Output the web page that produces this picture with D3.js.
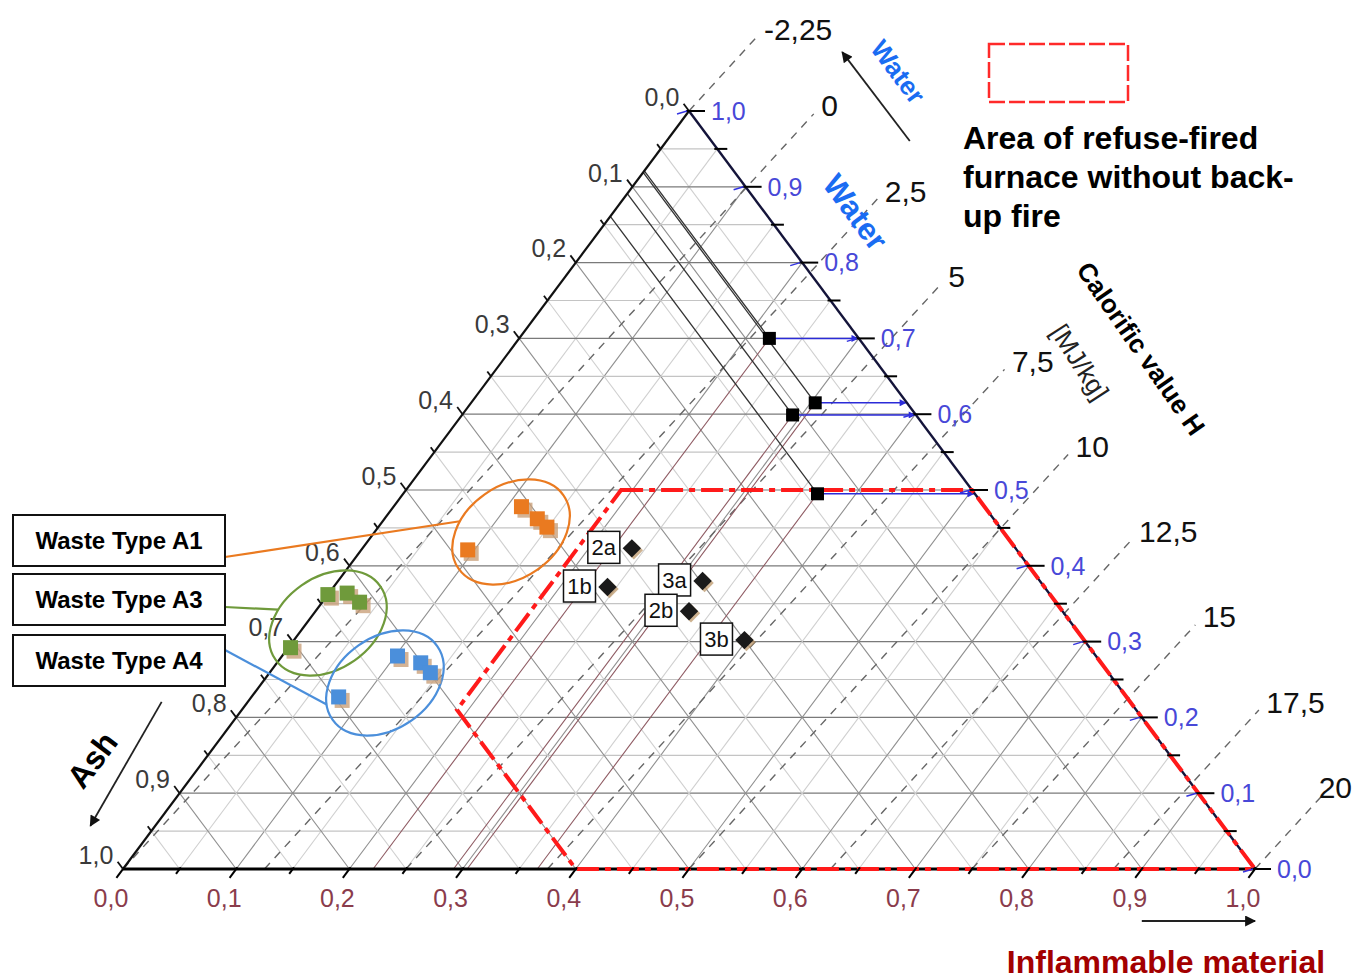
<!DOCTYPE html>
<html>
<head>
<meta charset="utf-8">
<script src="https://cdn.jsdelivr.net/npm/d3@7/dist/d3.min.js"></script>
<style>
html,body{margin:0;padding:0;background:#fff;}
svg{display:block;}
text{font-family:"Liberation Sans",Arial,Helvetica,sans-serif;}
</style>
</head>
<body>
<svg id="chart" width="1359" height="979"></svg>
<script>
// ---------------- data ----------------
const axisTicks = [0,0.1,0.2,0.3,0.4,0.5,0.6,0.7,0.8,0.9,1.0];
const bottomTickLabels = ["0,0","0,1","0,2","0,3","0,4","0,5","0,6","0,7","0,8","0,9","1,0"];
const leftTickLabels   = ["0,0","0,1","0,2","0,3","0,4","0,5","0,6","0,7","0,8","0,9","1,0"];
const rightTickLabels  = ["0,0","0,1","0,2","0,3","0,4","0,5","0,6","0,7","0,8","0,9","1,0"];
const calorificValues = [-2.25,0,2.5,5,7.5,10,12.5,15,17.5,20];
const calorificLabels = ["-2,25","0","2,5","5","7,5","10","12,5","15","17,5","20"];
const heatOfInflammable = 20;   // MJ/kg at pure inflammable material
const heatOfWater = -2.25;      // MJ/kg at pure water
// points: [ash, inflammable, water]
const wasteA1 = [[0.409,0.113,0.478],[0.403,0.135,0.462],[0.400,0.149,0.451],[0.485,0.094,0.421]];
const wasteA3 = [[0.638,0.000,0.362],[0.620,0.016,0.364],[0.615,0.033,0.352],[0.706,0.002,0.292]];
const wasteA4 = [[0.617,0.102,0.281],[0.601,0.127,0.272],[0.599,0.142,0.259],[0.696,0.077,0.227]];
const sampleNames  = ["2a","1b","3a","2b","3b"];
const samplePoints = [[0.339,0.238,0.423],[0.386,0.242,0.372],[0.298,0.322,0.380],[0.330,0.330,0.340],[0.300,0.398,0.302]];
const readoutPoints = [[0.079,0.221,0.700],[0.081,0.304,0.615],[0.109,0.292,0.599],[0.139,0.366,0.495]];
const furnaceArea = [[0.31,0.19,0.50],[0,0.5,0.5],[0,1,0],[0.6,0.4,0],[0.6,0.19,0.21]];
const groupNames = ["Waste Type A1","Waste Type A3","Waste Type A4"];
const groupColors = ["#ea7a20","#6f9a3b","#4b8fdb"];
const groupEllipseCenters = [[0.435,0.1205,0.4446],[0.657,0.0188,0.3245],[0.646,0.1087,0.2454]];
const groupData = [wasteA1, wasteA3, wasteA4];

// ---------------- geometry ----------------
const svg = d3.select("#chart");
const xScale = d3.scaleLinear().domain([0,1]).range([123,1255]);
const yScale = d3.scaleLinear().domain([0,1]).range([869,111]);
const P = (a,b,w) => [xScale(b + w/2), yScale(w)];
const VA = P(1,0,0), VB = P(0,1,0), VW = P(0,0,1);
const unit = (p,q) => { const dx=q[0]-p[0], dy=q[1]-p[1], l=Math.hypot(dx,dy); return [dx/l,dy/l]; };
const add = (p,v,s) => [p[0]+v[0]*s, p[1]+v[1]*s];
const line = d3.line();

const defs = svg.append("defs");
function marker(id,color,w,h){
  defs.append("marker").attr("id",id).attr("viewBox","0 0 10 10").attr("refX",9).attr("refY",5)
    .attr("markerUnits","userSpaceOnUse").attr("markerWidth",w).attr("markerHeight",h).attr("orient","auto")
    .append("path").attr("d","M0,0L10,5L0,10z").attr("fill",color);
}
marker("arrBlack","#111",16,11);
marker("arrBlue","#2b2bd8",9,7);

// ---------------- grid ----------------
const steps = d3.range(1,20).map(i=>i/20);
const gGrid = svg.append("g");
steps.forEach((v,i)=>{
  const major = (i%2===1);
  const diagCol = major ? "#8f8f8f" : "#cfcfcf";
  const horCol = major ? "#7a7a7a" : "#c4c4c4";
  gGrid.append("path").attr("d",line([P(1-v,0,v),P(0,1-v,v)])).attr("stroke",horCol).attr("stroke-width",1.2).attr("fill","none");
  gGrid.append("path").attr("d",line([P(1-v,v,0),P(0,v,1-v)])).attr("stroke",diagCol).attr("stroke-width",1.1).attr("fill","none");
  gGrid.append("path").attr("d",line([P(v,1-v,0),P(v,0,1-v)])).attr("stroke",diagCol).attr("stroke-width",1.1).attr("fill","none");
});

// ---------------- calorific value lines ----------------
const gCal = svg.append("g");
const hRef = 10;
const refDir = unit(P(1-hRef/heatOfInflammable,hRef/heatOfInflammable,0),
  (()=>{const b=(hRef-heatOfWater)/(heatOfInflammable-heatOfWater); return P(0,b,1-b);})());
calorificValues.forEach((h,i)=>{
  const bR = (h-heatOfWater)/(heatOfInflammable-heatOfWater);
  const end = P(0,bR,1-bR);
  const start = h>=0 ? P(1-h/heatOfInflammable,h/heatOfInflammable,0) : end;
  const ext = add(end,refDir,100);
  gCal.append("path").attr("d",line([start,ext])).attr("stroke","#666").attr("stroke-width",1.4)
    .attr("stroke-dasharray","8,7").attr("fill","none");
  const lp = add(end,refDir,108);
  const t = gCal.append("text").attr("x",lp[0]+2).attr("y",lp[1]-2).attr("dy","0.35em").attr("font-size",30)
    .attr("fill","#111").text(calorificLabels[i]);
  const wdt = t.node().getComputedTextLength();
  if (lp[0]+2+wdt > 1352) t.attr("x",1352-wdt);
});

// ---------------- readout construction lines ----------------
const gRead = svg.append("g");
readoutPoints.forEach(p=>{
  const [a,b,w] = p;
  const pt = P(a,b,w);
  gRead.append("path").attr("d",line([P(a,0,1-a),pt])).attr("stroke","#333").attr("stroke-width",1.3).attr("fill","none");
  gRead.append("path").attr("d",line([pt,P(1-b,b,0)])).attr("stroke","#8e5a62").attr("stroke-width",1.1).attr("fill","none");
  const r = P(0,1-w,w);
  gRead.append("path").attr("d",line([pt,[r[0]-1,r[1]]])).attr("stroke","#2b2bd8").attr("stroke-width",1.5)
    .attr("fill","none").attr("marker-end","url(#arrBlue)");
});

// ---------------- triangle axes ----------------
const gAx = svg.append("g");
gAx.append("path").attr("d",line([VA,VB])).attr("stroke","#000").attr("stroke-width",3);
gAx.append("path").attr("d",line([VA,VW])).attr("stroke","#111").attr("stroke-width",2.2);
gAx.append("path").attr("d",line([VW,VB])).attr("stroke","#14143a").attr("stroke-width",2.4);

// ---------------- furnace area ----------------
svg.append("path").attr("d",line(furnaceArea.map(d=>P(...d)))+"Z").attr("fill","none")
  .attr("stroke","#ff1a1a").attr("stroke-width",4).attr("stroke-dasharray","22,6,6,6");

const dirBottom = unit(VW,VA);   // down-left
const dirLeft = unit(VB,VW);     // up-left
const gTk = svg.append("g");
d3.range(0,21).map(i=>i/20).forEach((v,i)=>{
  const major = i%2===0;
  const pb = P(1-v,v,0);
  gTk.append("path").attr("d",line([add(pb,dirBottom,-2),add(pb,dirBottom,major?11:6)])).attr("stroke","#000").attr("stroke-width",2);
  const pl = P(v,0,1-v);
  gTk.append("path").attr("d",line([pl,add(pl,dirLeft,major?9:6)])).attr("stroke","#111").attr("stroke-width",1.8);
  const pr = P(0,1-v,v);
  gTk.append("path").attr("d",line([[pr[0]-3,pr[1]],[pr[0]+(major?16:10),pr[1]]])).attr("stroke","#000").attr("stroke-width",2);
  if(major){
    gTk.append("path").attr("d",line([[pr[0]-12,pr[1]+3],[pr[0]-2,pr[1]]])).attr("stroke","#3434e0").attr("stroke-width",1.5);
  }
});
axisTicks.forEach((v,i)=>{
  const pb = P(1-v,v,0);
  gTk.append("text").attr("x",pb[0]-12).attr("y",pb[1]+29).attr("dy","0.35em").attr("text-anchor","middle")
    .attr("font-size",25).attr("fill","#8a3c4c").text(bottomTickLabels[i]);
  const pl = P(v,0,1-v);
  gTk.append("text").attr("x",pl[0]-27).attr("y",pl[1]-14).attr("dy","0.35em").attr("text-anchor","middle")
    .attr("font-size",25).attr("fill","#3a3a3a").text(leftTickLabels[i]);
  const pr = P(0,1-v,v);
  gTk.append("text").attr("x",pr[0]+22).attr("y",pr[1]).attr("dy","0.35em").attr("text-anchor","start")
    .attr("font-size",25).attr("fill","#4848d8").text(rightTickLabels[i]);
});

// ---------------- group ellipses ----------------
const ERX = 64, ERY = 46, EROT = -35;
const gGroups = svg.append("g");
function ellipsePoint(c,t){
  const u = ERX*Math.cos(t*Math.PI/180), v = ERY*Math.sin(t*Math.PI/180);
  const th = EROT*Math.PI/180;
  return [c[0]+u*Math.cos(th)-v*Math.sin(th), c[1]+u*Math.sin(th)+v*Math.cos(th)];
}
const connectT = [236,239,200];
const boxTops = [515,574,635];
groupEllipseCenters.forEach((c,i)=>{
  const cp = P(...c);
  gGroups.append("ellipse").attr("cx",0).attr("cy",0).attr("rx",ERX).attr("ry",ERY)
    .attr("transform",`translate(${cp[0]},${cp[1]}) rotate(${EROT})`)
    .attr("fill","none").attr("stroke",groupColors[i]).attr("stroke-width",2.2);
  const ep = ellipsePoint(cp,connectT[i]);
  const bx = 225, by = boxTops[i]+ (i===0?42:(i===1?33:15));
  gGroups.append("path").attr("d",line([[bx,by],ep])).attr("stroke",groupColors[i]).attr("stroke-width",2.2).attr("fill","none");
  gGroups.append("rect").attr("x",13).attr("y",boxTops[i]).attr("width",212).attr("height",51)
    .attr("fill","#fff").attr("stroke","#111").attr("stroke-width",2);
  gGroups.append("text").attr("x",119).attr("y",boxTops[i]+26).attr("dy","0.35em").attr("text-anchor","middle")
    .attr("font-size",24).attr("font-weight","bold").attr("fill","#000").text(groupNames[i]);
});
groupData.forEach((pts,i)=>{
  pts.forEach(d=>{
    const p = P(...d);
    gGroups.append("rect").attr("x",p[0]-7+3).attr("y",p[1]-7+3).attr("width",15).attr("height",15)
      .attr("fill","#c9a07a").attr("opacity",0.8);
    gGroups.append("rect").attr("x",p[0]-7.5).attr("y",p[1]-7.5).attr("width",15).attr("height",15)
      .attr("fill",groupColors[i]);
  });
});

// ---------------- samples ----------------
const gS = svg.append("g");
samplePoints.forEach((d,i)=>{
  const p = P(...d);
  gS.append("rect").attr("x",-6.5).attr("y",-6.5).attr("width",13).attr("height",13)
    .attr("transform",`translate(${p[0]+2},${p[1]+2}) rotate(45)`).attr("fill","#b89060").attr("opacity",0.7);
  gS.append("rect").attr("x",-6.5).attr("y",-6.5).attr("width",13).attr("height",13)
    .attr("transform",`translate(${p[0]},${p[1]}) rotate(45)`).attr("fill","#1a1a1a");
  gS.append("rect").attr("x",p[0]-44).attr("y",p[1]-17).attr("width",32).attr("height",32)
    .attr("fill","#fff").attr("stroke","#111").attr("stroke-width",1.5);
  gS.append("text").attr("x",p[0]-28).attr("y",p[1]-1).attr("dy","0.35em").attr("text-anchor","middle")
    .attr("font-size",22).attr("fill","#111").text(sampleNames[i]);
});
readoutPoints.forEach(d=>{
  const p = P(...d);
  gS.append("rect").attr("x",p[0]-6.5).attr("y",p[1]-6.5).attr("width",13).attr("height",13).attr("fill","#000");
});

// ---------------- annotations ----------------
const gN = svg.append("g");
gN.append("rect").attr("x",989).attr("y",44).attr("width",139).attr("height",58).attr("fill","#fff")
  .attr("stroke","#ff2a2a").attr("stroke-width",2.5).attr("stroke-dasharray","16,4");
["Area of refuse-fired","furnace without back-","up fire"].forEach((t,i)=>{
  gN.append("text").attr("x",963).attr("y",149+i*39).attr("font-size",32).attr("font-weight","bold").attr("fill","#000").text(t);
});
const dUpRight = unit(VB,VW);
const nRight = [-dUpRight[1], dUpRight[0]];
const nR = nRight[0] > 0 ? nRight : [-nRight[0],-nRight[1]];
const onRight = (w,off)=> add(P(0,1-w,w),nR,off);
const dDownLeft = unit(VW,VA);
const nL0 = [dDownLeft[1], -dDownLeft[0]];
const nL = nL0[0] < 0 ? nL0 : [-nL0[0],-nL0[1]];
const onLeft = (a,off)=> add(P(a,0,1-a),nL,off);
const angRight = Math.atan2(VB[1]-VW[1],VB[0]-VW[0])*180/Math.PI;
const angLeft = Math.atan2(VW[1]-VA[1],VW[0]-VA[0])*180/Math.PI;

gN.append("path").attr("d",line([onRight(0.835,159),onRight(0.953,158)])).attr("stroke","#222").attr("stroke-width",1.8)
  .attr("marker-end","url(#arrBlack)");
let tp = onRight(0.901,191);
gN.append("text").attr("transform",`translate(${tp[0]},${tp[1]}) rotate(${angRight})`).attr("text-anchor","middle").attr("dy","0.35em")
  .attr("font-size",26).attr("font-weight","bold").attr("fill","#1a6cf2").text("Water");
tp = onRight(0.809,73);
gN.append("text").attr("transform",`translate(${tp[0]},${tp[1]}) rotate(${angRight})`).attr("text-anchor","middle").attr("dy","0.35em")
  .attr("font-size",31).attr("font-weight","bold").attr("fill","#1a6cf2").text("Water");
tp = onRight(0.513,220);
gN.append("text").attr("transform",`translate(${tp[0]},${tp[1]}) rotate(${angRight+2})`).attr("text-anchor","middle").attr("dy","0.35em")
  .attr("font-size",26).attr("font-weight","bold").attr("fill","#000").text("Calorific value H");
tp = onRight(0.54,163);
gN.append("text").attr("transform",`translate(${tp[0]},${tp[1]}) rotate(${angRight+4})`).attr("text-anchor","middle").attr("dy","0.35em")
  .attr("font-size",26).attr("fill","#222").text("[MJ/kg]");
gN.append("path").attr("d",line([onLeft(0.834,69),onLeft(0.984,52)])).attr("stroke","#222").attr("stroke-width",1.8)
  .attr("marker-end","url(#arrBlack)");
tp = onLeft(0.927,90);
gN.append("text").attr("transform",`translate(${tp[0]},${tp[1]}) rotate(${angLeft})`).attr("text-anchor","middle").attr("dy","0.35em")
  .attr("font-size",32).attr("font-weight","bold").attr("fill","#000").text("Ash");
gN.append("path").attr("d",line([[xScale(0.9),921],[xScale(1.0),921]])).attr("stroke","#222").attr("stroke-width",1.8)
  .attr("marker-end","url(#arrBlack)");
gN.append("text").attr("x",1166).attr("y",973).attr("text-anchor","middle").attr("font-size",32).attr("font-weight","bold")
  .attr("fill","#a30000").text("Inflammable material");
</script>
</body>
</html>
